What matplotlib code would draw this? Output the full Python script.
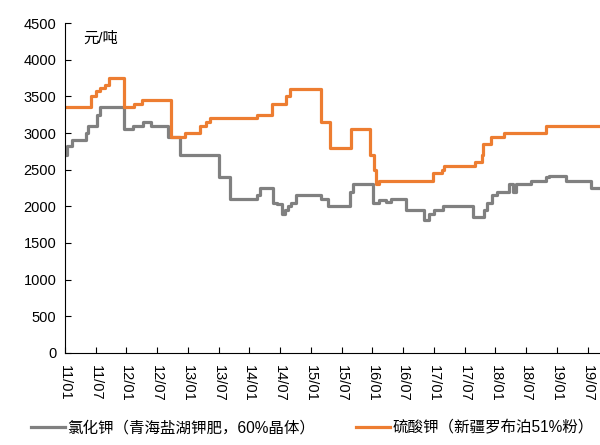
import matplotlib
matplotlib.use("Agg")
import matplotlib.pyplot as plt

plt.rcParams['font.family'] = ['Liberation Sans', 'Noto Sans CJK SC', 'DejaVu Sans']

# breakpoints (fractional year) and prices, drawn as steps
gray_t = [2011.00, 2011.03, 2011.11, 2011.34, 2011.38, 2011.52, 2011.57, 2011.96, 2012.11, 2012.27,
          2012.40, 2012.68, 2012.87, 2013.50, 2013.68, 2014.12, 2014.18, 2014.38, 2014.45, 2014.53,
          2014.58, 2014.63, 2014.68, 2014.76, 2015.17, 2015.28, 2015.63, 2015.68, 2016.01, 2016.11,
          2016.22, 2016.30, 2016.54, 2016.84, 2016.92, 2017.00, 2017.14, 2017.63, 2017.82, 2017.87,
          2017.95, 2018.03, 2018.22, 2018.28, 2018.34, 2018.58, 2018.82, 2018.87, 2019.14, 2019.55,
          2019.70]
gray_v = [2700, 2820, 2900, 3000, 3100, 3250, 3350, 3050, 3100, 3150,
          3100, 2950, 2700, 2400, 2100, 2150, 2250, 2050, 2030, 1900,
          1950, 2000, 2050, 2150, 2100, 2000, 2200, 2300, 2050, 2080,
          2060, 2100, 1950, 1820, 1900, 1950, 2000, 1850, 1950, 2050,
          2150, 2200, 2300, 2200, 2300, 2350, 2400, 2420, 2350, 2250,
          2250]

orange_t = [2011.00, 2011.43, 2011.50, 2011.57, 2011.65, 2011.72, 2011.96, 2012.12, 2012.26, 2012.72,
            2012.96, 2013.20, 2013.30, 2013.36, 2014.12, 2014.37, 2014.60, 2014.66, 2015.16, 2015.31,
            2015.65, 2015.96, 2016.03, 2016.06, 2016.10, 2016.99, 2017.13, 2017.17, 2017.66, 2017.78,
            2017.80, 2017.93, 2018.14, 2018.83, 2019.70]
orange_v = [3350, 3500, 3580, 3620, 3650, 3750, 3350, 3400, 3450, 2950,
            3000, 3100, 3150, 3200, 3250, 3400, 3500, 3600, 3150, 2800,
            3050, 2700, 2500, 2300, 2350, 2450, 2500, 2550, 2600, 2700,
            2850, 2950, 3000, 3100, 3100]

tick_pos = [2011 + 0.5 * i for i in range(18)]
tick_labels = ["11/01", "11/07", "12/01", "12/07", "13/01", "13/07", "14/01", "14/07", "15/01",
               "15/07", "16/01", "16/07", "17/01", "17/07", "18/01", "18/07", "19/01", "19/07"]
y_ticks = [0, 500, 1000, 1500, 2000, 2500, 3000, 3500, 4000, 4500]

fig = plt.figure(figsize=(6, 4.45), dpi=100)
ax = fig.add_axes([0.108, 0.207, 0.892, 0.741])

ax.plot(gray_t, gray_v, drawstyle='steps-post', color='#808080', lw=2.3,
        label='氯化钾（青海盐湖钾肥，60%晶体）')
ax.plot(orange_t, orange_v, drawstyle='steps-post', color='#ED7D31', lw=2.3,
        label='硫酸钾（新疆罗布泊51%粉）')

ax.set_xlim(2011.0, 2019.70)
ax.set_ylim(0, 4500)
ax.set_yticks(y_ticks)
ax.set_xticks(tick_pos)
ax.set_xticklabels(tick_labels, rotation=-90, fontsize=10.5)
ax.tick_params(axis='y', labelsize=10.5, direction='in', length=4, pad=6)
ax.tick_params(axis='x', direction='in', length=4, pad=9)
for s in ['top', 'right']:
    ax.spines[s].set_visible(False)

ax.text(0.035, 0.975, '元/吨', transform=ax.transAxes, fontsize=11, va='top', ha='left')

fig.legend(loc='lower center', bbox_to_anchor=(0.52, -0.01), ncol=2, frameon=False,
           fontsize=11.2, handlelength=2.2, handletextpad=0.15, columnspacing=2.6)

fig.savefig("out.png", dpi=100)
